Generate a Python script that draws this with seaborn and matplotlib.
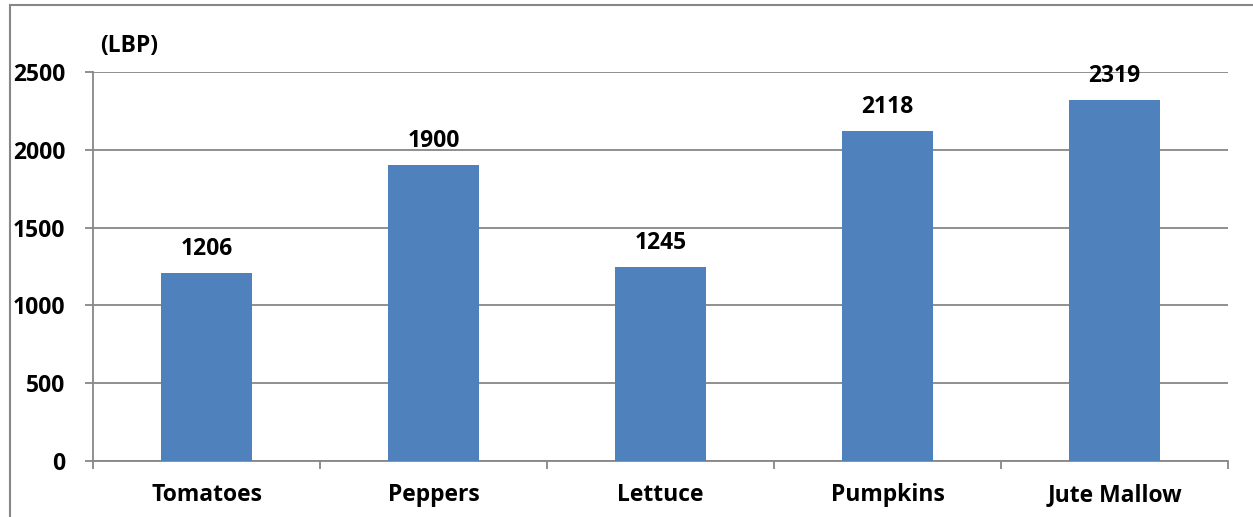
import matplotlib
matplotlib.use("Agg")
import matplotlib.pyplot as plt
import seaborn as sns
import pandas as pd
from matplotlib.patches import Rectangle

# Chart data
crops = ['Tomatoes', 'Peppers', 'Lettuce', 'Pumpkins', 'Jute Mallow']
prices = [1206, 1900, 1245, 2118, 2319]
y_ticks = [0, 500, 1000, 1500, 2000, 2500]

df = pd.DataFrame({'Crop': crops, 'Price': prices})

sns.set_style("white")
plt.rcParams['font.family'] = ['Open Sans', 'DejaVu Sans']
plt.rcParams['font.weight'] = 'bold'
plt.rcParams['text.color'] = 'black'
fs = 16.5

fig = plt.figure(figsize=(12.53, 5.17), dpi=100)
ax = fig.add_axes([93 / 1253, 1 - 461 / 517, (1228 - 93) / 1253, (461 - 72) / 517])

sns.barplot(data=df, x='Crop', y='Price', color='#4F81BD', width=0.4,
            saturation=1, linewidth=0, ax=ax, zorder=3)

grid_color = '#878787'
ax.set_ylim(0, 2500)
ax.set_xlim(-0.5, len(crops) - 0.5)
ax.set_yticks(y_ticks)
ax.set_yticklabels([str(t) for t in y_ticks], fontsize=fs, fontweight='bold')
ax.yaxis.grid(True, color=grid_color, linewidth=1.3, zorder=0)
ax.set_axisbelow(True)

# category boundary ticks on the x axis
ax.set_xticks([i - 0.5 for i in range(len(crops) + 1)], minor=True)
ax.set_xticks(range(len(crops)))
ax.set_xticklabels(crops, fontsize=fs, fontweight='bold')
ax.tick_params(axis='x', which='major', length=0, pad=16, labelcolor='black')
ax.tick_params(axis='x', which='minor', bottom=True, length=6, width=1.3,
               color=grid_color, direction='out')
ax.tick_params(axis='y', left=True, length=6, width=1.3, color=grid_color,
               direction='out', pad=14, labelcolor='black')

for side in ['top', 'right']:
    ax.spines[side].set_visible(False)
for side in ['left', 'bottom']:
    ax.spines[side].set_color(grid_color)
    ax.spines[side].set_linewidth(1.3)

ax.set_xlabel('')
ax.set_ylabel('')

for i, v in enumerate(prices):
    ax.annotate(str(v), (i, v), xytext=(0, 9), textcoords='offset points',
                ha='center', va='bottom', fontsize=fs, fontweight='bold', color='black')

fig.text(100 / 1253, 1 - 46 / 517, '(LBP)', fontsize=fs, fontweight='bold',
         ha='left', va='center', color='black')

# outer frame (cut by the right and bottom edges)
fig.patches.append(Rectangle((10 / 1253, -0.1), 1.2, 1 - 5 / 517 + 0.1,
                             transform=fig.transFigure, fill=False,
                             edgecolor='#878787', linewidth=1.5))

fig.savefig('out.png', dpi=100)
